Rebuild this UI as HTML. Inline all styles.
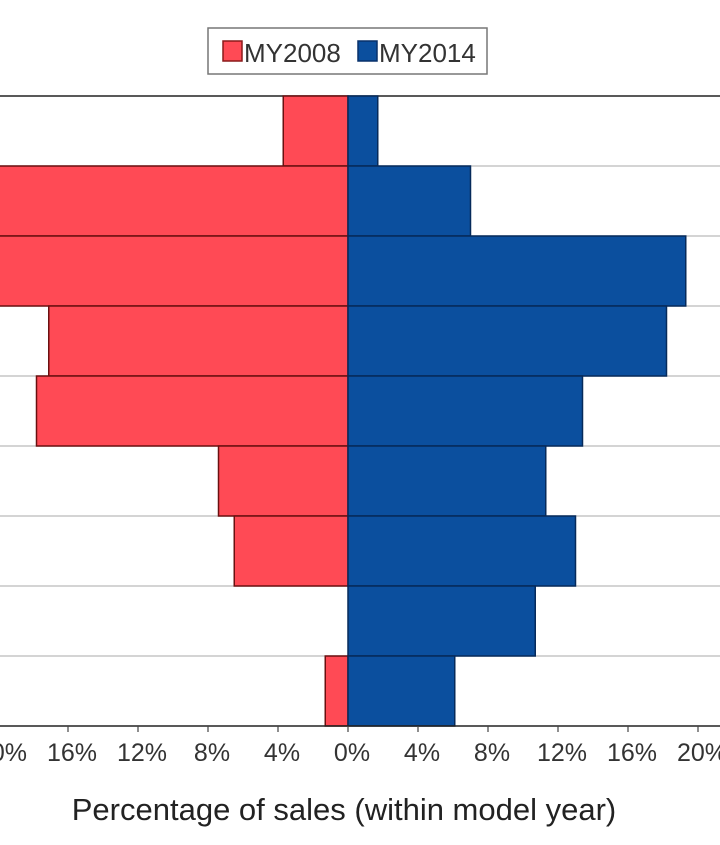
<!DOCTYPE html>
<html><head><meta charset="utf-8"><style>
html,body{margin:0;padding:0;background:#fff;}
svg{display:block;font-family:"Liberation Sans",Arial,sans-serif;}
</style></head><body>
<svg id="chart" width="720" height="845" viewBox="0 0 720 845">
<g id="grid"></g>
<g id="bars"></g>
<g id="axis"></g>
<text x="344" y="820" font-size="31" fill="#222" text-anchor="middle">Percentage of sales (within model year)</text>
<g>
<rect x="208" y="28" width="279" height="46" fill="#fff" stroke="#777" stroke-width="1.5"/>
<g>
<rect x="223" y="41" width="19" height="20" fill="#ff4a55" stroke="#8a1a1a" stroke-width="1.5"/>
<text x="244" y="62" font-size="26" fill="#333">MY2008</text></g>
<g>
<rect x="358" y="41" width="19" height="20" fill="#0b4f9e" stroke="#08306a" stroke-width="1.5"/>
<text x="379" y="62" font-size="26" fill="#333">MY2014</text></g>
</g>
</svg>
<script>
const categories = ["c1","c2","c3","c4","c5","c6","c7","c8","c9"];
const my2008 = [3.7, 21, 21, 17.1, 17.8, 7.4, 6.5, 0, 1.3];
const my2014 = [1.7, 7.0, 19.3, 18.2, 13.4, 11.3, 13.0, 10.7, 6.1];
const tickValues = [-20,-16,-12,-8,-4,0,4,8,12,16,20];
const tickLabels = ["20%","16%","12%","8%","4%","0%","4%","8%","12%","16%","20%"];

const NS = "http://www.w3.org/2000/svg";
const x0 = 348, pxPer = 17.5, plotTop = 96, rowH = 70;
const xScale = v => x0 + v * pxPer;
const yScale = i => plotTop + i * rowH;
const plotBottom = yScale(categories.length);
function mk(tag, attrs, parent){const e=document.createElementNS(NS,tag);for(const k in attrs)e.setAttribute(k,attrs[k]);parent.appendChild(e);return e;}
const grid=document.getElementById('grid'), bars=document.getElementById('bars'), axis=document.getElementById('axis');
for(let i=1;i<categories.length;i++){
  const l=mk('line',{x1:0,x2:720,y1:yScale(i),y2:yScale(i),stroke:'#bbb','stroke-width':1.2},grid);
  
  
}
const tl=mk('line',{x1:0,x2:720,y1:plotTop,y2:plotTop,stroke:'#222','stroke-width':1.5},grid);


categories.forEach((c,i)=>{
  const y=yScale(i);
  const w1=my2008[i]*pxPer;
  if(w1>0){
    const r=mk('rect',{x:xScale(-my2008[i]),y:y,width:w1,height:rowH,fill:'#ff4a55',stroke:'#6a1010','stroke-width':1.5},bars);
    
    
  }
  const w2=my2014[i]*pxPer;
  const b=mk('rect',{x:x0,y:y,width:w2,height:rowH,fill:'#0b4f9e',stroke:'#062a5a','stroke-width':1.5},bars);
  
  
});
const al=mk('line',{x1:0,x2:720,y1:plotBottom,y2:plotBottom,stroke:'#222','stroke-width':1.5},axis);


tickValues.forEach((v,i)=>{
  const x=xScale(v);
  const t=mk('line',{x1:x,x2:x,y1:plotBottom,y2:plotBottom+6,stroke:'#444','stroke-width':1.2},axis);
  
  
  const tx=mk('text',{x:x+4,y:plotBottom+35,'font-size':25,fill:'#333','text-anchor':'middle'},axis);
  tx.textContent=tickLabels[i];
  
  
});
</script>
</body></html>
